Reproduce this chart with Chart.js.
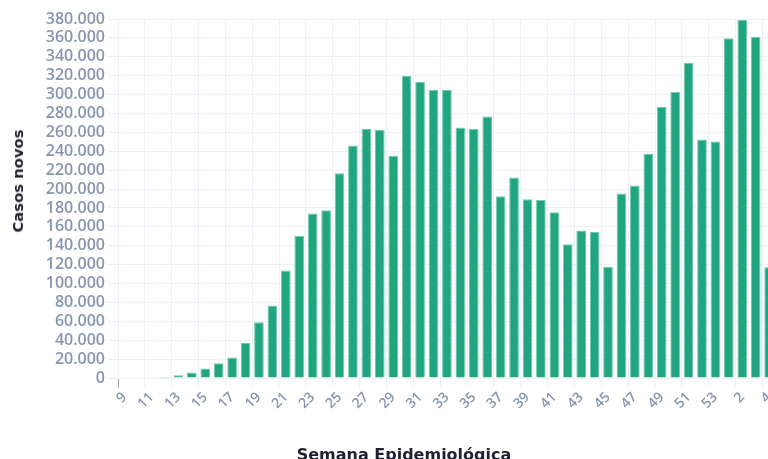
<!DOCTYPE html>
<html>
<head>
<meta charset="utf-8">
<script src="https://cdn.jsdelivr.net/npm/chart.js@4.4.1/dist/chart.umd.min.js"></script>
<style>
html,body{margin:0;padding:0;overflow:hidden;background:#fff;width:768px;height:459px;}
#wrap{position:absolute;left:0;top:0;width:782px;height:459px;}
.ttl{position:absolute;font-family:"DejaVu Sans",sans-serif;font-weight:bold;line-height:16px;color:#1f2130;white-space:nowrap;}
#xt{left:404px;top:446.5px;font-size:16px;transform:translateX(-50%);}
#yt{left:17.75px;top:181px;font-size:14.8px;transform:translate(-50%,-50%) rotate(-90deg);}
</style>
</head>
<body>
<div id="wrap"><canvas id="c"></canvas></div>
<div class="ttl" id="yt">Casos novos</div>
<div class="ttl" id="xt">Semana Epidemiológica</div>
<script>
// Epidemiological weeks (9..53, then 1..4 of the following year)
const weeks = ['9','10','11','12','13','14','15','16','17','18','19','20','21','22','23','24','25','26','27','28','29','30','31','32','33','34','35','36','37','38','39','40','41','42','43','44','45','46','47','48','49','50','51','52','53','1','2','3','4'];
// New cases per week
const newCases = [0,0,0,1000,2900,5700,10000,15600,21600,37100,59100,76800,113900,150600,174000,177600,216800,246000,263500,262800,235200,319700,313700,305000,305000,265200,263500,276900,192300,212200,189200,188500,175500,141500,156000,154600,117400,195400,203700,237300,286900,303100,333500,252500,250400,359600,379200,361100,117100];
const yMin = 0, yMax = 380000, yStep = 20000;

const gridColor = '#edf1f7';
const tickText = '#8796b0';
const fmt = v => String(v).replace(/\B(?=(\d{3})+(?!\d))/g, '.');

Chart.defaults.font.family = '"Open Sans", sans-serif';

new Chart(document.getElementById('c'), {
  type: 'bar',
  data: {
    labels: weeks,
    datasets: [{
      data: newCases,
      backgroundColor: '#20a580',
      borderColor: '#6fcaa9',
      borderWidth: 1,
      barPercentage: 0.72,
      categoryPercentage: 1.0
    }]
  },
  options: {
    responsive: true,
    maintainAspectRatio: false,
    animation: false,
    layout: { padding: { top: 19, right: 0, bottom: 0, left: 0 } },
    plugins: { legend: { display: false }, tooltip: { enabled: false } },
    scales: {
      x: {
        offset: true,
        grid: {
          offset: true,
          color: ctx => (ctx.index % 2 === 0 ? gridColor : 'rgba(0,0,0,0)'),
          tickColor: ctx => (ctx.index === 0 ? '#a3a3a3' : (ctx.index % 2 === 0 ? gridColor : 'rgba(0,0,0,0)')),
          tickLength: 10,
          lineWidth: 1
        },
        border: { display: true, color: gridColor },
        ticks: {
          autoSkip: false,
          minRotation: 45,
          maxRotation: 45,
          padding: 1,
          color: tickText,
          font: { size: 14, weight: 600 },
          callback: function (v, i) { return i % 2 === 0 ? this.getLabelForValue(v) : ''; }
        },
        afterFit: s => { s.height = 81; }
      },
      y: {
        min: yMin,
        max: yMax,
        grid: { color: gridColor, tickColor: gridColor, tickLength: 10, lineWidth: 1 },
        border: { display: true, color: gridColor },
        ticks: {
          autoSkip: false,
          stepSize: yStep,
          padding: 3,
          color: tickText,
          font: { size: 16, weight: 600 },
          callback: v => fmt(v)
        },
        afterFit: s => { s.width = 118; }
      }
    }
  }
});
</script>
</body>
</html>
